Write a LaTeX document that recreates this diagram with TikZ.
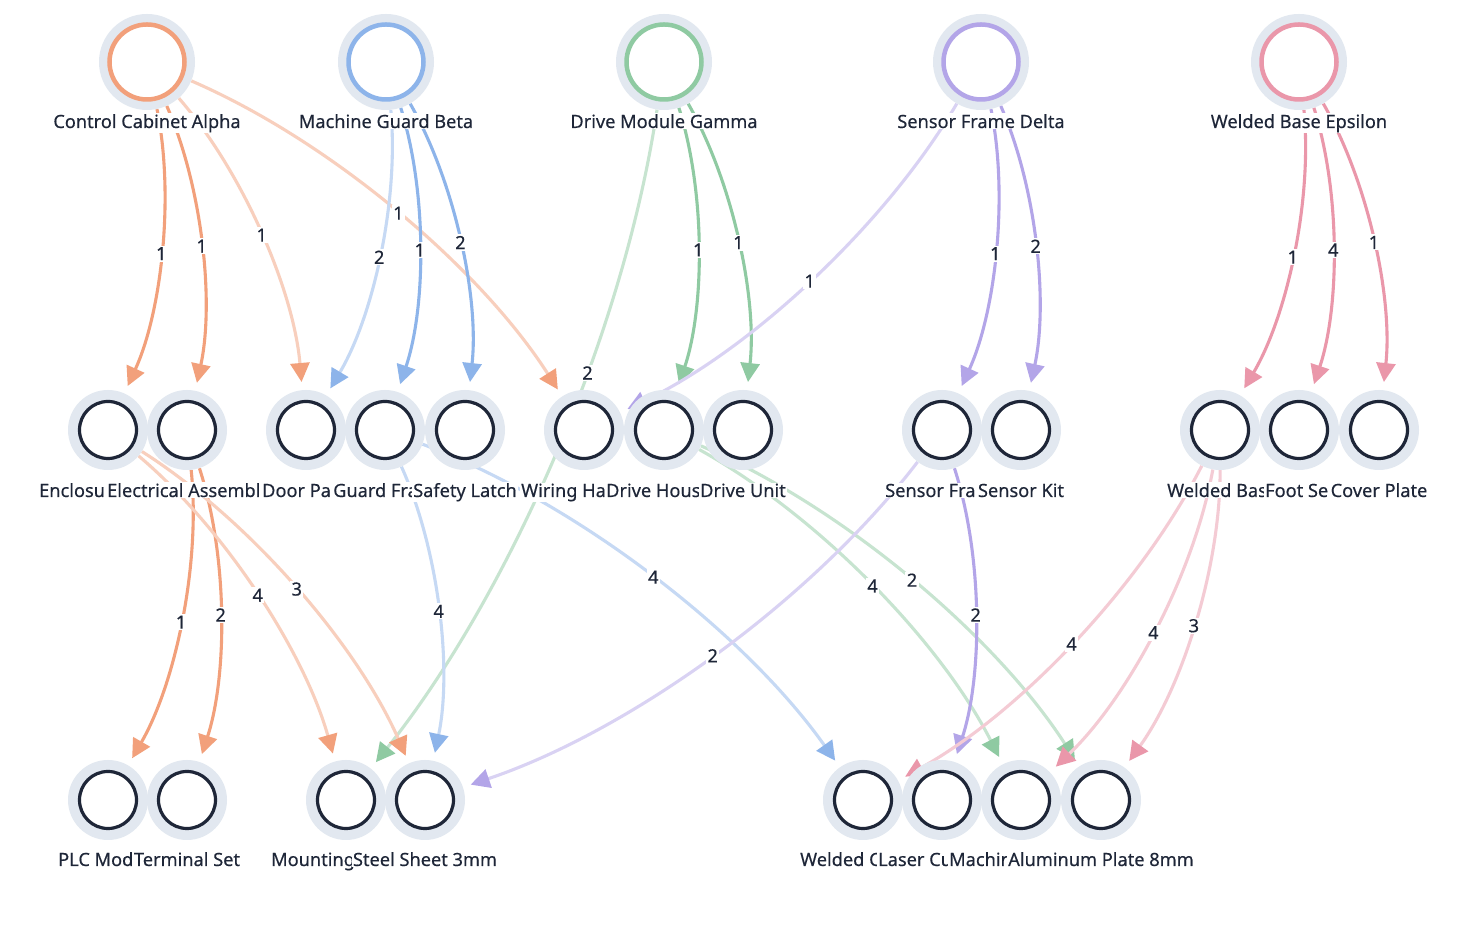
\documentclass[tikz,border=0pt]{standalone}
\usepackage{fontspec}
\setmainfont{Noto Sans}
\newfontfamily\labelfont{Noto Sans}[FakeBold=0.35]
\usetikzlibrary{arrows.meta, backgrounds}
\definecolor{cOrange}{HTML}{F2A07B}
\definecolor{cBlue}{HTML}{8DB4EA}
\definecolor{cGreen}{HTML}{8FCAA2}
\definecolor{cPurple}{HTML}{B3A5E8}
\definecolor{cPink}{HTML}{EA97AA}
\definecolor{halo}{HTML}{E2E8F0}
\definecolor{ink}{HTML}{1E2638}
\tikzstyle{partnode} = [circle, fill=halo, minimum size=80pt, inner sep=0pt,
path picture={\draw[ink, line width=3.2pt, fill=white] (path picture bounding box.center) circle (28.5pt);}]
\tikzstyle{tag} = [fill=white, inner sep=1pt, text=ink, font=\labelfont\fontsize{18.2}{22}\selectfont]
\tikzstyle{num} = [fill=white, inner sep=1.5pt, text=ink, font=\labelfont\fontsize{18.2}{22}\selectfont]
\tikzset{
  assembly/.style={circle, fill=halo, minimum size=96pt, inner sep=0pt,
    path picture={\draw[#1, line width=4.5pt, fill=white] (path picture bounding box.center) circle (37.5pt);}},
  strong/.style={draw=#1, line width=3.1pt, -{Triangle[length=19pt,width=19pt,color=#1]}, shorten >=8pt},
  faint/.style={draw=#1!50, line width=3.1pt, -{Triangle[length=19pt,width=19pt,color=#1]}, shorten >=8pt},
  every edge/.append style={bend left=18, looseness=0.8}
}

\begin{document}
\begin{tikzpicture}[x=1pt,y=1pt]
      \useasboundingbox (0,0) rectangle (1460,925);
      % assemblies
      \node [assembly=cOrange] (cca) at (147,863) {};
      \node [assembly=cBlue] (mgb) at (386,863) {};
      \node [assembly=cGreen] (dmg) at (664,863) {};
      \node [assembly=cPurple] (sfd) at (981,863) {};
      \node [assembly=cPink] (wbe) at (1299,863) {};
      % parts
      \node [partnode] (enc) at (108,495) {};
      \node [partnode] (elec) at (187,495) {};
      \node [partnode] (door) at (306,495) {};
      \node [partnode] (gfr) at (385,495) {};
      \node [partnode] (latch) at (465,495) {};
      \node [partnode] (wire) at (584,495) {};
      \node [partnode] (dhous) at (664,495) {};
      \node [partnode] (dunit) at (743,495) {};
      \node [partnode] (sfr) at (942,495) {};
      \node [partnode] (skit) at (1021,495) {};
      \node [partnode] (wbas) at (1220,495) {};
      \node [partnode] (foot) at (1299,495) {};
      \node [partnode] (cover) at (1379,495) {};
      % materials
      \node [partnode] (plc) at (108,125) {};
      \node [partnode] (term) at (187,125) {};
      \node [partnode] (mount) at (346,125) {};
      \node [partnode] (steel) at (425,125) {};
      \node [partnode] (wcomp) at (863,125) {};
      \node [partnode] (laser) at (942,125) {};
      \node [partnode] (mach) at (1021,125) {};
      \node [partnode] (alu) at (1101,125) {};
      % names
      \node [tag, anchor=base] (cca-l) at (147,797) {Control Cabinet Alpha};
      \node [tag, anchor=base] (mgb-l) at (386,797) {Machine Guard Beta};
      \node [tag, anchor=base] (dmg-l) at (664,797) {Drive Module Gamma};
      \node [tag, anchor=base] (sfd-l) at (981,797) {Sensor Frame Delta};
      \node [tag, anchor=base] (wbe-l) at (1299,797) {Welded Base Epsilon};
      \node [tag, anchor=base west] (enc-l) at (38,428) {Enclosu};
      \node [tag, anchor=base west] (elec-l) at (106,428) {Electrical Assembl};
      \node [tag, anchor=base west] (door-l) at (261,428) {Door Pa};
      \node [tag, anchor=base west] (gfr-l) at (332,428) {Guard Fra};
      \node [tag, anchor=base] (latch-l) at (465,428) {Safety Latch};
      \node [tag, anchor=base west] (wire-l) at (520,428) {Wiring Ha};
      \node [tag, anchor=base west] (dhous-l) at (605,428) {Drive Hous};
      \node [tag, anchor=base] (dunit-l) at (743,428) {Drive Unit};
      \node [tag, anchor=base west] (sfr-l) at (884,428) {Sensor Fra};
      \node [tag, anchor=base] (skit-l) at (1021,428) {Sensor Kit};
      \node [tag, anchor=base west] (wbas-l) at (1166,428) {Welded Bas};
      \node [tag, anchor=base west] (foot-l) at (1264,428) {Foot Se};
      \node [tag, anchor=base] (cover-l) at (1379,428) {Cover Plate};
      \node [tag, anchor=base west] (plc-l) at (57,59) {PLC Mod};
      \node [tag, anchor=base] (term-l) at (187,59) {Terminal Set};
      \node [tag, anchor=base west] (mount-l) at (270,59) {Mounting};
      \node [tag, anchor=base] (steel-l) at (425,59) {Steel Sheet 3mm};
      \node [tag, anchor=base west] (wcomp-l) at (799,59) {Welded C};
      \node [tag, anchor=base west] (laser-l) at (877,59) {Laser Cu};
      \node [tag, anchor=base west] (mach-l) at (948,59) {Machin};
      \node [tag, anchor=base] (alu-l) at (1101,59) {Aluminum Plate 8mm};
      \begin{pgfonlayer}{background}
      \fill [white] (0,0) rectangle (1460,925);
      % assemblies to parts
      \path (cca) edge[strong=cOrange] node[num] {1} (enc);
      \path (cca) edge[strong=cOrange] node[num] {1} (elec);
      \path (cca) edge[faint=cOrange] node[num] {1} (door);
      \path (cca) edge[faint=cOrange, bend left=17] node[num] {1} (wire);
      \path (mgb) edge[faint=cBlue] node[num] {2} (door);
      \path (mgb) edge[strong=cBlue] node[num] {1} (gfr);
      \path (mgb) edge[strong=cBlue] node[num] {2} (latch);
      \path (dmg) edge[faint=cGreen, bend left=15] node[num, pos=0.38] {2} (mount);
      \path (dmg) edge[strong=cGreen] node[num] {1} (dhous);
      \path (dmg) edge[strong=cGreen] node[num] {1} (dunit);
      \path (sfd) edge[faint=cPurple, bend left=17] node[num] {1} (wire);
      \path (sfd) edge[strong=cPurple] node[num] {1} (sfr);
      \path (sfd) edge[strong=cPurple] node[num] {2} (skit);
      \path (wbe) edge[strong=cPink] node[num] {1} (wbas);
      \path (wbe) edge[strong=cPink] node[num] {4} (foot);
      \path (wbe) edge[strong=cPink] node[num] {1} (cover);
      % parts to materials
      \path (elec) edge[strong=cOrange] node[num] {1} (plc);
      \path (elec) edge[strong=cOrange] node[num] {2} (term);
      \path (enc) edge[faint=cOrange, bend left=17] node[num] {4} (mount);
      \path (enc) edge[faint=cOrange, bend left=17] node[num] {3} (steel);
      \path (gfr) edge[faint=cBlue] node[num] {4} (steel);
      \path (gfr) edge[faint=cBlue, bend left=17] node[num] {4} (wcomp);
      \path (dhous) edge[faint=cGreen, bend left=17] node[num] {4} (mach);
      \path (dhous) edge[faint=cGreen, bend left=17] node[num] {2} (alu);
      \path (sfr) edge[faint=cPurple, bend left=17] node[num] {2} (steel);
      \path (sfr) edge[strong=cPurple] node[num] {2} (laser);
      \path (wbas) edge[faint=cPink, bend left=17] node[num] {4} (wcomp);
      \path (wbas) edge[faint=cPink] node[num] {4} (mach);
      \path (wbas) edge[faint=cPink] node[num] {3} (alu);
      \end{pgfonlayer}
  \end{tikzpicture}
\end{document}
